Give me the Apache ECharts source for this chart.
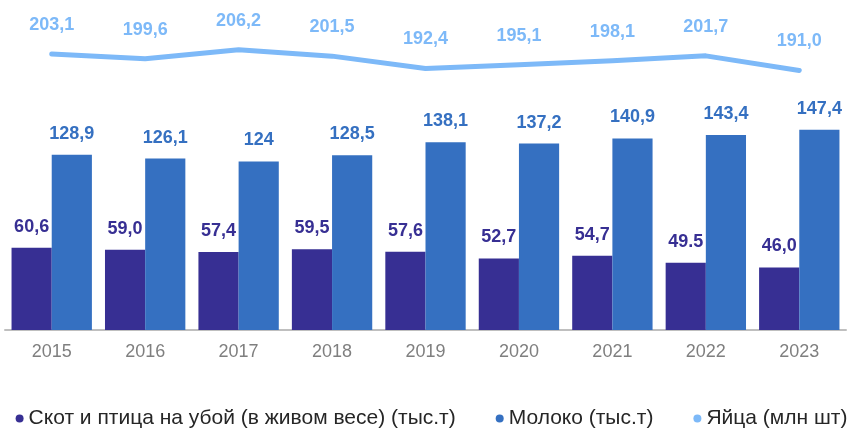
<!DOCTYPE html>
<html>
<head>
<meta charset="utf-8">
<script src="https://cdn.jsdelivr.net/npm/echarts@6/dist/echarts.min.js"></script>
<style>html,body{margin:0;padding:0;background:#fff;}#c{width:863px;height:430px;}</style>
</head>
<body>
<div id="c"></div>
<script>
var categories = ['2015','2016','2017','2018','2019','2020','2021','2022','2023'];
var livestock = [60.6, 59.0, 57.4, 59.5, 57.6, 52.7, 54.7, 49.5, 46.0];
var livestockLabels = ['60,6','59,0','57,4','59,5','57,6','52,7','54,7','49.5','46,0'];
var milk = [128.9, 126.1, 124, 128.5, 138.1, 137.2, 140.9, 143.4, 147.4];
var milkLabels = ['128,9','126,1','124','128,5','138,1','137,2','140,9','143,4','147,4'];
var eggs = [203.1, 199.6, 206.2, 201.5, 192.4, 195.1, 198.1, 201.7, 191.0];
var eggsLabels = ['203,1','199,6','206,2','201,5','192,4','195,1','198,1','201,7','191,0'];
var seriesNames = ['Скот и птица на убой (в живом весе) (тыс.т)', 'Молоко (тыс.т)', 'Яйца (млн шт)'];

var FONT = '"Liberation Sans", Arial, sans-serif';
var chart = echarts.init(document.getElementById('c'));
chart.setOption({
  animation: false,
  textStyle: { fontFamily: FONT },
  grid: { left: 5, right: 17, top: 31, bottom: 100, containLabel: false },
  legend: {
    top: 403,
    left: 'center',
    icon: 'circle',
    itemWidth: 8,
    itemHeight: 8,
    itemGap: 40,
    textStyle: { fontSize: 21, color: '#262626', fontFamily: FONT },
    data: seriesNames
  },
  xAxis: {
    type: 'category',
    data: categories,
    axisLine: { lineStyle: { color: '#bfbfbf', width: 2 } },
    axisTick: { show: false },
    axisLabel: { fontSize: 18, color: '#7f7f7f', margin: 13, fontFamily: FONT }
  },
  yAxis: {
    type: 'value', min: 0, max: 220, show: false,
    splitLine: { show: false }
  },
  series: [
    {
      name: seriesNames[0], type: 'bar', data: livestock,
      barGap: '0%', barCategoryGap: '14%',
      itemStyle: { color: '#372f93' },
      label: { show: true, position: 'top', distance: 12, fontSize: 18, fontWeight: 'bold', color: '#372f93',
        formatter: function (p) { return livestockLabels[p.dataIndex]; } }
    },
    {
      name: seriesNames[1], type: 'bar', data: milk,
      itemStyle: { color: '#3570c1' },
      label: { show: true, position: 'top', distance: 12, fontSize: 18, fontWeight: 'bold', color: '#3570c1',
        formatter: function (p) { return milkLabels[p.dataIndex]; } }
    },
    {
      name: seriesNames[2], type: 'line', data: eggs,
      showSymbol: true, symbol: 'circle', symbolSize: 0,
      lineStyle: { color: '#7db9f8', width: 5, cap: 'round', join: 'round' },
      itemStyle: { color: '#7db9f8' },
      label: { show: true, position: 'top', distance: 20, fontSize: 18, fontWeight: 'bold', color: '#7db9f8',
        formatter: function (p) { return eggsLabels[p.dataIndex]; } }
    }
  ]
});
</script>
</body>
</html>
